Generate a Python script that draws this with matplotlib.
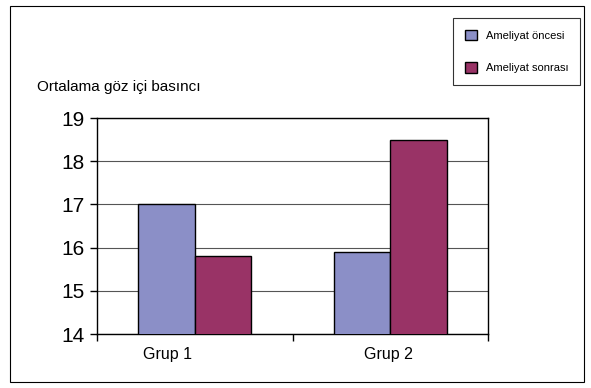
import numpy as np
import matplotlib.pyplot as plt
from matplotlib.patches import Rectangle

groups = ['Grup 1', 'Grup 2']
before = [17.0, 15.9]
after = [15.8, 18.5]
series_names = ['Ameliyat öncesi', 'Ameliyat sonrası']
ylabel = 'Ortalama göz içi basıncı'

plt.rcParams['font.family'] = ['Liberation Sans', 'DejaVu Sans']

W, H = 591, 388
fig = plt.figure(figsize=(W / 100, H / 100), dpi=100)
fig.patches.append(Rectangle((10 / W, 1 - 382 / H), 574 / W, 376 / H,
                             transform=fig.transFigure, fill=False,
                             edgecolor='black', linewidth=0.8))

ax = fig.add_axes([97 / W, 1 - 334 / H, 391 / W, 216 / H])
x = np.arange(len(groups))
w = 0.29
ax.bar(x - w / 2, before, w, color='#8b8fc7', edgecolor='black',
       linewidth=1, label=series_names[0], zorder=3)
ax.bar(x + w / 2, after, w, color='#993366', edgecolor='black',
       linewidth=1, label=series_names[1], zorder=3)

ax.set_ylim(14, 19)
ax.set_xlim(-0.5, 1.5)
ax.set_yticks(range(14, 20))
ax.yaxis.grid(True, color='#555555', linewidth=0.8, zorder=0)
ax.tick_params(axis='y', labelsize=15, length=5, width=1, pad=4)
ax.set_xticks([-0.5, 0.5, 1.5])
ax.set_xticklabels([])
ax.tick_params(axis='x', length=5, width=1)
label_x = [x[0] - 0.14, x[1] - 0.01]
for i, g in enumerate(groups):
    ax.text(label_x[i], -0.095, g, transform=ax.get_xaxis_transform(),
            ha='center', va='center', fontsize=11.5)
for s in ax.spines.values():
    s.set_linewidth(1)

fig.text(37 / W, 1 - 87 / H, ylabel, fontsize=11, va='center', ha='left')

leg = fig.legend(loc='upper left', bbox_to_anchor=(453 / W, 1 - 18 / H),
                 fontsize=8, frameon=True, fancybox=False, edgecolor='black',
                 handlelength=1.1, handleheight=1.1, handletextpad=0.8,
                 borderpad=1.05, labelspacing=1.9, borderaxespad=0)
leg.get_frame().set_linewidth(0.8)

fig.savefig('out.png', dpi=100)
